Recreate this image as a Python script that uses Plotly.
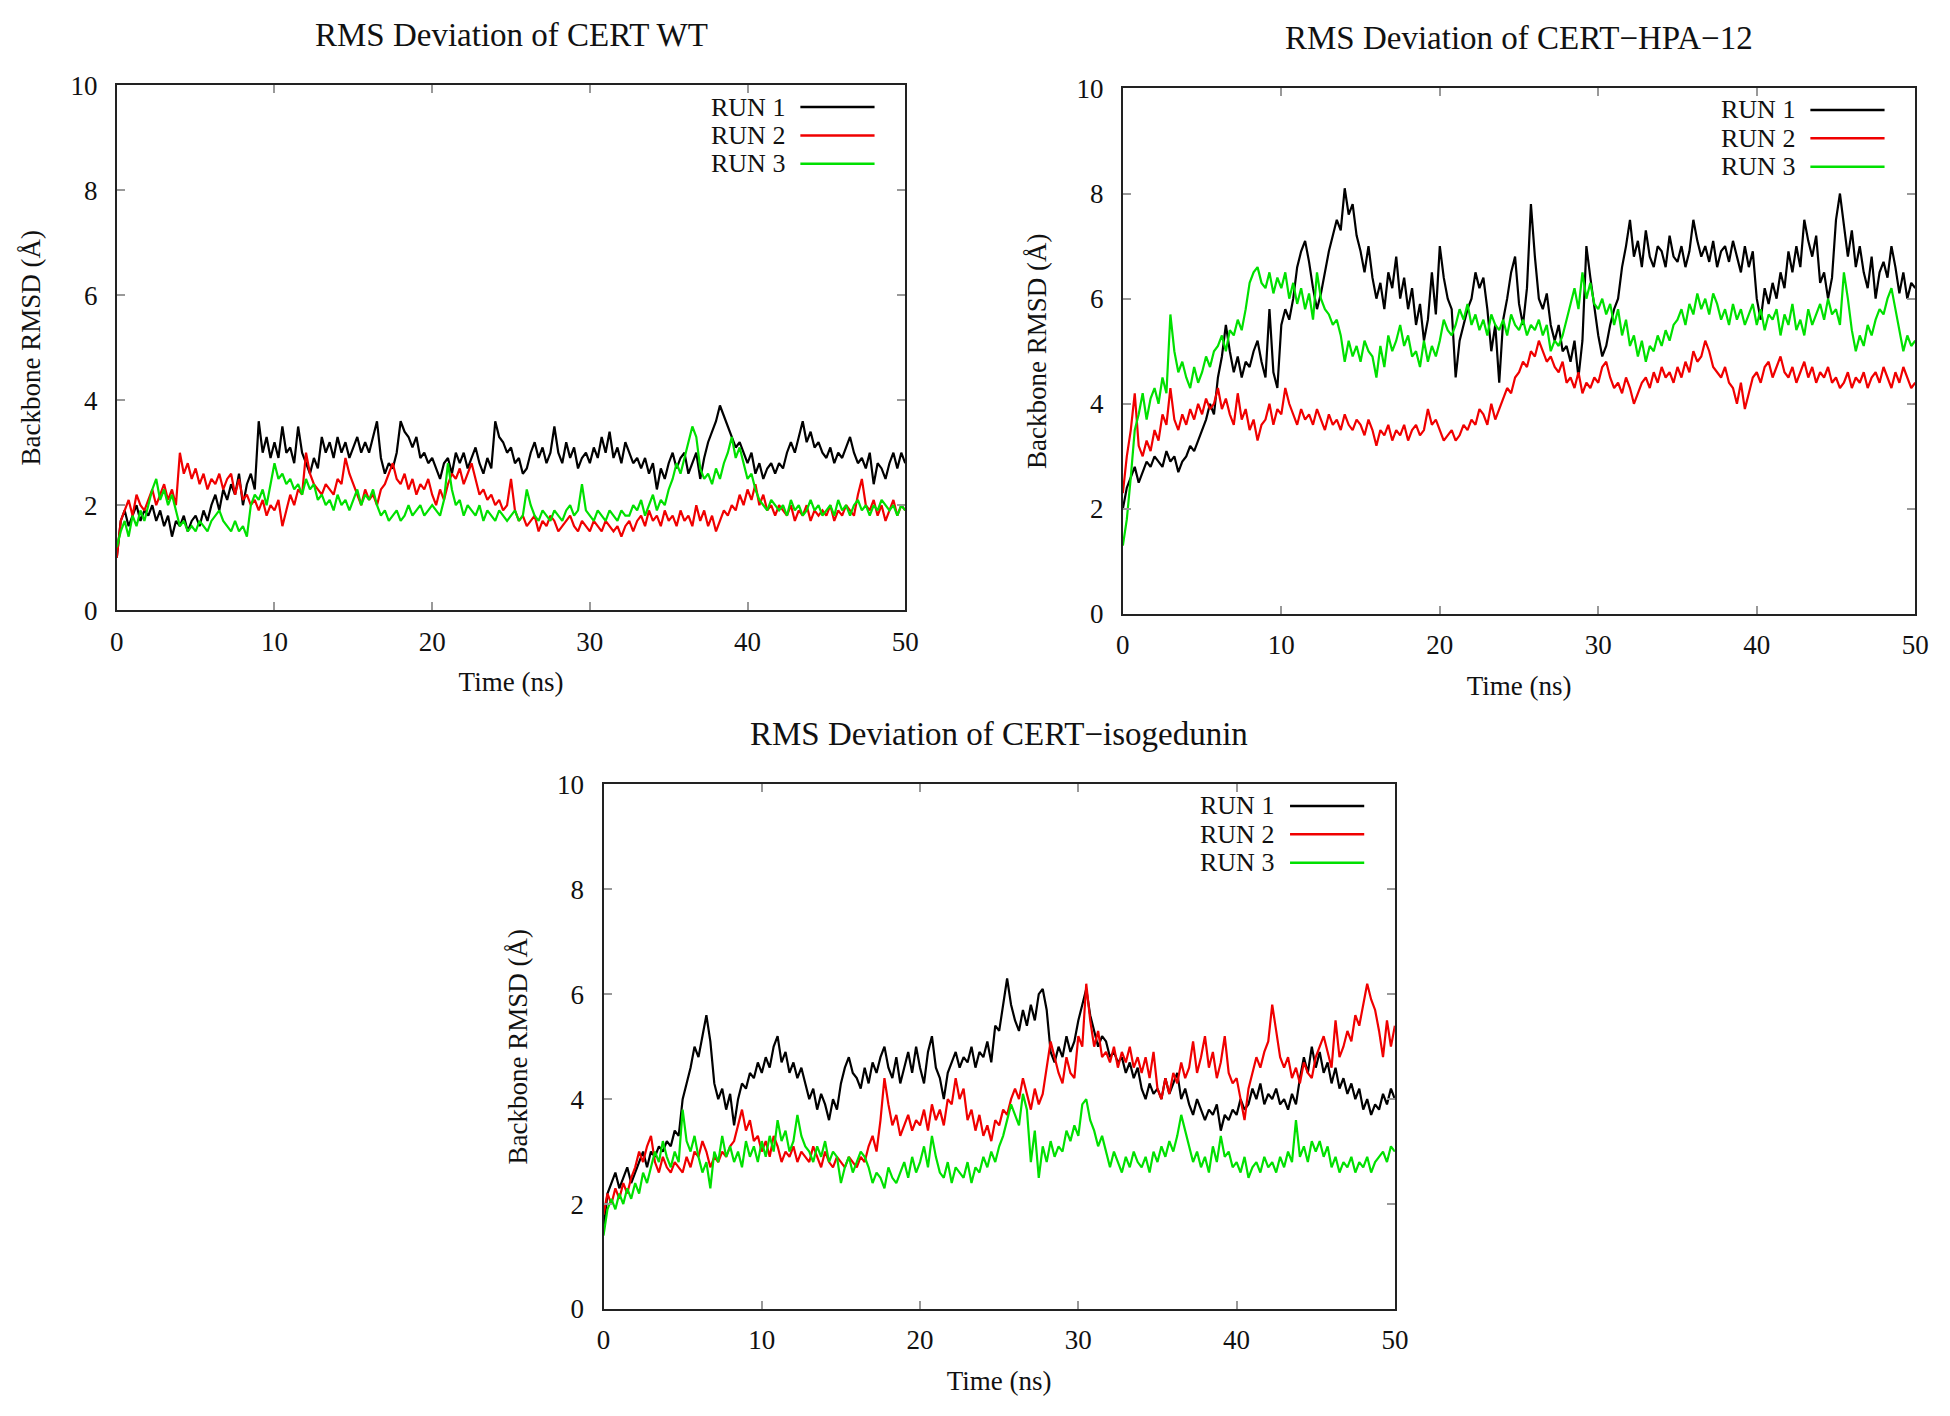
import plotly.graph_objects as go

TIME_STEP = 0.25

RUN_NAMES = ["RUN 1", "RUN 2", "RUN 3"]
RUN_COLORS = ["#000000", "#f00000", "#00e000"]

PANEL_TITLES = [
    "RMS Deviation of CERT WT",
    "RMS Deviation of CERT\u2212HPA\u221212",
    "RMS Deviation of CERT\u2212isogedunin",
]

X_TITLE = "Time (ns)"
Y_TITLE = "Backbone RMSD (\u00c5)"
X_TICKS = [0, 10, 20, 30, 40, 50]
Y_TICKS = [0, 2, 4, 6, 8, 10]

wt_run1 = [
    1.0, 1.7, 1.9, 1.6, 1.8, 2.0, 1.7, 1.9, 1.8, 2.0, 1.7, 1.9, 1.6, 1.8, 1.4, 1.7, 1.6, 1.8, 1.5, 1.7,
    1.8, 1.6, 1.9, 1.7, 2.0, 2.2, 1.9, 2.3, 2.1, 2.4, 2.2, 2.6, 2.0, 2.4, 2.6, 2.3, 3.6, 3.0, 3.3, 2.9,
    3.2, 2.9, 3.5, 3.0, 3.1, 2.8, 3.5, 3.0, 2.8, 2.6, 2.9, 2.7, 3.3, 3.0, 3.2, 2.9, 3.3, 3.0, 3.2, 2.9,
    3.1, 3.3, 3.0, 3.2, 3.0, 3.3, 3.6, 2.9, 2.6, 2.8, 2.7, 3.0, 3.6, 3.4, 3.3, 3.1, 3.3, 2.9, 3.0, 2.8,
    2.9, 2.7, 2.5, 2.8, 2.9, 2.6, 3.0, 2.8, 3.0, 2.7, 2.9, 3.1, 2.8, 2.6, 2.9, 2.7, 3.6, 3.3, 3.2, 3.0,
    3.1, 2.8, 2.9, 2.6, 2.7, 3.0, 3.2, 2.9, 3.1, 2.8, 3.0, 3.5, 3.0, 2.8, 3.2, 2.9, 3.1, 2.7, 2.9, 3.0,
    2.8, 3.1, 2.9, 3.3, 3.0, 3.4, 2.9, 3.1, 2.8, 3.2, 3.0, 2.8, 2.9, 2.7, 2.9, 2.6, 2.8, 2.3, 2.7, 2.5,
    2.8, 3.0, 2.7, 2.9, 3.0, 2.6, 2.8, 3.0, 2.5, 2.9, 3.2, 3.4, 3.6, 3.9, 3.7, 3.5, 3.3, 3.1, 3.2, 3.0,
    2.8, 3.0, 2.6, 2.8, 2.5, 2.7, 2.8, 2.6, 2.8, 2.7, 3.0, 3.2, 3.0, 3.3, 3.6, 3.2, 3.4, 3.1, 3.2, 3.0,
    2.9, 3.1, 2.8, 3.0, 2.9, 3.1, 3.3, 3.0, 2.8, 2.9, 2.7, 3.0, 2.4, 2.8, 2.7, 2.5, 2.8, 3.0, 2.7, 3.0,
    2.8,
]
wt_run2 = [
    1.0, 1.7, 1.9, 2.1, 1.8, 2.2, 2.0, 1.9, 2.1, 2.3, 2.0, 2.2, 2.4, 2.1, 2.3, 2.0, 3.0, 2.6, 2.8, 2.5,
    2.7, 2.4, 2.6, 2.3, 2.5, 2.4, 2.6, 2.3, 2.5, 2.6, 2.2, 2.5, 2.1, 2.2, 2.0, 2.1, 1.9, 2.1, 1.8, 2.0,
    1.9, 2.1, 1.6, 1.9, 2.2, 2.0, 2.3, 2.2, 3.0, 2.6, 2.4, 2.3, 2.2, 2.4, 2.3, 2.2, 2.5, 2.4, 2.9, 2.6,
    2.4, 2.2, 2.0, 2.3, 2.1, 2.2, 2.0, 2.3, 2.4, 2.6, 2.8, 2.5, 2.4, 2.6, 2.3, 2.5, 2.2, 2.4, 2.3, 2.5,
    2.2, 2.0, 2.3, 2.1, 2.4, 2.6, 2.5, 2.7, 2.4, 2.6, 2.8, 2.5, 2.2, 2.3, 2.1, 2.2, 2.0, 2.1, 1.9, 2.0,
    2.5, 1.9, 1.7, 1.8, 1.6, 1.7, 1.8, 1.5, 1.7, 1.6, 1.8, 1.7, 1.5, 1.6, 1.7, 1.8, 1.6, 1.5, 1.7, 1.6,
    1.5, 1.7, 1.6, 1.5, 1.7, 1.6, 1.5, 1.6, 1.4, 1.6, 1.7, 1.5, 1.7, 1.8, 1.6, 1.9, 1.7, 1.8, 1.6, 1.9,
    1.7, 1.8, 1.6, 1.9, 1.7, 1.8, 1.6, 2.0, 1.7, 1.9, 1.6, 1.8, 1.5, 1.7, 1.9, 1.8, 2.0, 1.9, 2.2, 2.0,
    2.3, 2.1, 2.4, 2.0, 2.2, 1.9, 2.0, 1.8, 2.0, 1.9, 1.8, 2.0, 1.7, 1.9, 1.8, 2.0, 1.7, 1.9, 1.8, 1.9,
    1.8, 2.0, 1.7, 1.9, 1.8, 2.0, 1.9, 1.8, 2.2, 2.5, 2.0, 1.9, 2.1, 1.8, 2.0, 1.7, 1.9, 2.1, 1.8, 2.0,
    1.9,
]
wt_run3 = [
    1.2, 1.5, 1.7, 1.4, 1.8, 1.6, 1.9, 1.7, 2.0, 2.3, 2.5, 2.1, 2.3, 2.0, 2.2, 1.9, 1.6, 1.7, 1.5, 1.6,
    1.5, 1.7, 1.6, 1.5, 1.7, 1.8, 1.9, 1.7, 1.6, 1.5, 1.7, 1.5, 1.6, 1.4, 2.0, 2.2, 2.1, 2.3, 2.0, 2.4,
    2.8, 2.5, 2.6, 2.4, 2.5, 2.3, 2.4, 2.2, 2.5, 2.3, 2.4, 2.1, 2.2, 2.0, 2.1, 1.9, 2.2, 2.0, 2.1, 1.9,
    2.1, 2.3, 2.0, 2.2, 2.1, 2.3, 2.0, 1.8, 1.9, 1.7, 1.8, 1.9, 1.7, 1.8, 2.0, 1.8, 1.9, 2.0, 1.8, 1.9,
    2.0, 1.9, 1.8, 2.1, 2.8, 2.3, 2.0, 2.1, 1.8, 2.0, 1.9, 1.8, 2.0, 1.7, 1.9, 1.8, 1.7, 1.9, 1.8, 1.7,
    1.8, 1.9, 1.7, 1.8, 2.3, 2.0, 1.8, 1.7, 1.9, 1.8, 1.7, 1.9, 1.8, 1.7, 1.9, 2.0, 1.8, 1.9, 2.4, 1.9,
    1.8, 1.7, 1.9, 1.8, 1.7, 1.9, 1.8, 1.7, 1.9, 1.8, 1.8, 2.0, 1.9, 2.1, 1.8, 2.0, 2.2, 1.9, 2.1, 2.0,
    2.3, 2.5, 2.8, 2.6, 2.9, 3.2, 3.5, 3.3, 2.7, 2.5, 2.6, 2.4, 2.7, 2.5, 2.8, 3.0, 3.3, 2.9, 3.1, 2.8,
    2.5, 2.6, 2.3, 2.1, 2.0, 1.9, 2.1, 2.0, 1.9, 2.0, 1.8, 2.1, 1.9, 2.0, 1.8, 1.9, 2.1, 1.9, 2.0, 1.8,
    1.9, 2.0, 1.8, 2.1, 1.9, 2.0, 1.8, 2.0, 2.1, 1.9, 2.0, 1.8, 2.0, 1.9, 2.1, 2.0, 1.9, 2.0, 1.8, 2.0,
    1.9,
]

hpa_run1 = [
    2.0, 2.4, 2.6, 2.8, 2.5, 2.7, 2.9, 2.8, 3.0, 2.9, 2.8, 3.1, 2.9, 3.0, 2.7, 2.9, 3.0, 3.2, 3.1, 3.3,
    3.5, 3.7, 4.0, 3.8, 4.5, 4.9, 5.5, 5.0, 4.6, 4.9, 4.5, 4.8, 4.7, 5.0, 5.2, 4.8, 4.5, 5.8, 4.6, 4.3,
    5.5, 5.8, 5.6, 6.0, 6.6, 6.9, 7.1, 6.7, 6.2, 5.8, 6.1, 6.5, 6.9, 7.2, 7.5, 7.3, 8.1, 7.6, 7.8, 7.2,
    6.9, 6.5, 7.0, 6.4, 6.0, 6.3, 5.8, 6.5, 6.2, 6.8, 6.0, 6.4, 5.8, 6.2, 5.5, 5.9, 5.2, 5.6, 6.5, 5.7,
    7.0, 6.4, 6.0, 5.8, 4.5, 5.2, 5.5, 5.8, 6.0, 6.5, 6.2, 6.4, 5.8, 5.0, 5.5, 4.4, 5.6, 6.0, 6.5, 6.8,
    5.9, 5.5, 6.2, 7.8, 6.8, 6.0, 5.8, 6.1, 5.5, 5.2, 5.5, 5.0, 5.1, 4.8, 5.2, 4.5, 5.2, 7.0, 6.4, 5.8,
    5.3, 4.9, 5.1, 5.5, 5.8, 6.0, 6.6, 7.0, 7.5, 6.8, 7.1, 6.6, 7.3, 6.8, 6.6, 7.0, 6.9, 6.6, 7.2, 6.8,
    6.7, 7.0, 6.6, 6.9, 7.5, 7.1, 6.8, 7.0, 6.7, 7.1, 6.6, 6.9, 7.0, 6.7, 7.1, 6.8, 6.5, 7.0, 6.6, 6.9,
    6.0, 5.6, 6.2, 5.9, 6.3, 6.0, 6.5, 6.2, 6.9, 6.5, 7.0, 6.6, 7.5, 7.1, 6.8, 7.2, 6.3, 6.5, 6.0, 6.4,
    7.5, 8.0, 7.4, 6.8, 7.3, 6.6, 7.0, 6.5, 6.2, 6.8, 6.0, 6.5, 6.7, 6.4, 7.0, 6.6, 6.1, 6.5, 6.0, 6.3,
    6.2,
]
hpa_run2 = [
    2.3, 3.0, 3.5, 4.2, 3.2, 3.0, 3.3, 3.1, 3.5, 3.3, 3.8, 3.6, 4.3, 3.7, 3.5, 3.8, 3.6, 3.9, 3.7, 4.0,
    3.8, 4.1, 3.9, 4.0, 4.3, 3.9, 4.1, 3.8, 3.6, 4.2, 3.7, 3.9, 3.5, 3.7, 3.3, 3.6, 3.7, 4.0, 3.6, 3.9,
    3.8, 4.3, 4.0, 3.8, 3.6, 3.9, 3.7, 3.8, 3.6, 3.9, 3.7, 3.5, 3.8, 3.6, 3.7, 3.5, 3.8, 3.6, 3.5, 3.7,
    3.6, 3.4, 3.7, 3.5, 3.2, 3.5, 3.4, 3.6, 3.3, 3.5, 3.4, 3.6, 3.3, 3.5, 3.6, 3.4, 3.5, 3.9, 3.6, 3.7,
    3.5, 3.3, 3.4, 3.5, 3.3, 3.4, 3.6, 3.5, 3.7, 3.6, 3.9, 3.8, 3.6, 4.0, 3.7, 3.9, 4.1, 4.3, 4.2, 4.5,
    4.6, 4.8, 4.7, 5.0, 4.9, 5.2, 5.0, 4.8, 4.9, 4.7, 4.6, 4.8, 4.4, 4.5, 4.3, 4.6, 4.2, 4.4, 4.3, 4.5,
    4.4, 4.7, 4.8, 4.5, 4.3, 4.4, 4.2, 4.5, 4.3, 4.0, 4.2, 4.4, 4.5, 4.3, 4.6, 4.4, 4.7, 4.5, 4.6, 4.4,
    4.7, 4.5, 4.8, 4.6, 5.0, 4.8, 4.9, 5.2, 5.0, 4.7, 4.6, 4.5, 4.7, 4.4, 4.3, 4.0, 4.4, 3.9, 4.2, 4.5,
    4.6, 4.4, 4.7, 4.8, 4.5, 4.7, 4.9, 4.6, 4.5, 4.7, 4.4, 4.6, 4.8, 4.5, 4.7, 4.4, 4.6, 4.5, 4.7, 4.4,
    4.5, 4.3, 4.4, 4.6, 4.3, 4.5, 4.4, 4.6, 4.3, 4.5, 4.6, 4.4, 4.7, 4.5, 4.3, 4.6, 4.4, 4.7, 4.5, 4.3,
    4.4,
]
hpa_run3 = [
    1.3, 1.8, 2.6, 3.5, 3.8, 4.2, 3.7, 4.1, 4.3, 4.0, 4.5, 4.2, 5.7, 5.0, 4.6, 4.8, 4.5, 4.3, 4.7, 4.4,
    4.6, 4.9, 4.7, 5.0, 5.1, 5.3, 5.0, 5.4, 5.3, 5.6, 5.4, 5.8, 6.3, 6.5, 6.6, 6.3, 6.2, 6.5, 6.1, 6.4,
    6.2, 6.5, 6.0, 6.3, 5.9, 6.2, 5.8, 6.1, 5.6, 6.5, 6.0, 5.8, 5.7, 5.5, 5.6, 5.3, 4.8, 5.2, 4.9, 5.1,
    4.8, 5.2, 5.0, 4.9, 4.5, 5.1, 4.7, 5.3, 5.0, 5.2, 5.5, 5.1, 5.3, 4.9, 5.0, 4.7, 5.2, 4.8, 5.1, 4.9,
    5.2, 5.6, 5.4, 5.3, 5.5, 5.8, 5.6, 5.9, 5.5, 5.7, 5.4, 5.6, 5.3, 5.7, 5.5, 5.4, 5.6, 5.3, 5.7, 5.5,
    5.4, 5.6, 5.3, 5.5, 5.4, 5.6, 5.3, 5.5, 5.0, 5.2, 5.1, 5.3, 5.6, 5.9, 6.2, 5.8, 6.5, 6.0, 6.3, 5.9,
    5.8, 6.0, 5.7, 5.9, 5.5, 5.8, 5.3, 5.6, 5.1, 5.3, 4.9, 5.2, 4.8, 5.1, 5.0, 5.3, 5.1, 5.4, 5.2, 5.5,
    5.6, 5.8, 5.5, 5.9, 5.7, 6.1, 5.8, 6.0, 5.7, 6.1, 5.9, 5.6, 5.8, 5.5, 5.9, 5.6, 5.8, 5.5, 5.7, 5.9,
    5.5, 5.8, 5.4, 5.7, 5.6, 5.8, 5.3, 5.7, 5.5, 5.9, 5.4, 5.6, 5.3, 5.8, 5.5, 5.7, 5.9, 5.6, 6.0, 5.7,
    5.8, 5.5, 6.5, 6.0, 5.4, 5.0, 5.3, 5.1, 5.5, 5.3, 5.6, 5.8, 5.7, 6.0, 6.2, 5.8, 5.4, 5.0, 5.3, 5.1,
    5.2,
]

iso_run1 = [
    1.5, 2.2, 2.4, 2.6, 2.3, 2.5, 2.7, 2.4, 2.6, 2.8, 3.0, 2.7, 3.0, 2.9, 3.1, 3.0, 3.2, 3.1, 3.4, 3.3,
    4.0, 4.3, 4.6, 5.0, 4.8, 5.2, 5.6, 5.1, 4.3, 4.0, 4.2, 3.8, 4.1, 3.5, 4.0, 4.3, 4.2, 4.5, 4.4, 4.7,
    4.5, 4.8, 4.6, 5.0, 5.2, 4.7, 4.9, 4.5, 4.7, 4.4, 4.6, 4.3, 4.0, 4.2, 3.8, 4.1, 3.9, 3.6, 4.0, 3.8,
    4.3, 4.6, 4.8, 4.5, 4.4, 4.2, 4.6, 4.3, 4.7, 4.5, 4.8, 5.0, 4.6, 4.4, 4.8, 4.3, 4.6, 4.9, 4.5, 5.0,
    4.6, 4.3, 4.9, 5.2, 4.6, 4.4, 4.0, 4.5, 4.7, 4.9, 4.6, 4.8, 4.7, 5.0, 4.6, 4.9, 4.8, 5.1, 4.7, 5.4,
    5.3, 5.8, 6.3, 5.8, 5.5, 5.3, 5.7, 5.4, 5.8, 5.5, 6.0, 6.1, 5.7, 4.9, 4.7, 5.0, 4.8, 5.2, 4.9, 5.1,
    5.5, 5.8, 6.1, 5.6, 5.3, 5.0, 5.2, 5.1, 4.8, 4.9, 4.7, 4.8, 4.5, 4.7, 4.4, 4.6, 4.2, 4.0, 4.3, 4.1,
    4.2, 4.0, 4.4, 4.1, 4.3, 4.5, 4.0, 4.2, 3.9, 3.7, 4.0, 3.8, 3.6, 3.8, 3.7, 3.9, 3.4, 3.7, 3.6, 3.8,
    3.7, 4.0, 3.8, 3.9, 4.2, 4.0, 4.3, 3.9, 4.1, 4.0, 4.2, 3.9, 4.0, 3.8, 4.1, 3.9, 4.4, 4.8, 4.5, 5.0,
    4.6, 4.9, 4.5, 4.7, 4.3, 4.6, 4.2, 4.4, 4.1, 4.3, 4.0, 4.2, 3.8, 4.0, 3.7, 3.9, 3.8, 4.1, 3.9, 4.2,
    4.0,
]
iso_run2 = [
    1.8, 2.2, 2.0, 2.3, 2.1, 2.4, 2.2, 2.5, 2.7, 3.0, 2.8, 3.1, 3.3, 2.8, 2.6, 2.9, 2.7, 2.6, 2.8, 2.7,
    2.6, 2.9, 2.7, 3.0, 2.9, 3.2, 3.0, 2.7, 2.9, 2.8, 3.0, 2.9, 3.1, 3.2, 3.5, 3.8, 3.4, 3.6, 3.2, 3.3,
    3.0, 3.2, 2.9, 3.3, 3.1, 2.8, 3.0, 2.9, 3.1, 2.8, 3.0, 2.9, 2.8, 3.1, 2.9, 2.7, 3.0, 2.8, 2.7, 2.9,
    2.8, 2.7, 2.9, 2.8, 2.7, 2.9, 2.8, 3.1, 3.3, 3.0, 3.6, 4.4, 3.9, 3.5, 3.7, 3.3, 3.5, 3.7, 3.4, 3.6,
    3.5, 3.8, 3.4, 3.9, 3.6, 3.8, 3.5, 4.0, 3.9, 4.4, 4.0, 4.2, 3.6, 3.8, 3.4, 3.7, 3.3, 3.5, 3.2, 3.6,
    3.5, 3.8, 3.7, 4.0, 4.2, 4.0, 4.4, 4.1, 3.8, 4.2, 3.9, 4.1, 4.6, 5.1, 4.8, 4.5, 4.3, 4.8, 4.5, 4.4,
    5.2, 5.0, 6.2, 5.5, 5.0, 5.3, 4.8, 4.9, 4.7, 5.0, 4.6, 4.9, 4.7, 5.0, 4.6, 4.8, 4.5, 4.8, 4.4, 4.9,
    4.2, 4.0, 4.4, 4.1, 4.5, 4.3, 4.7, 4.4, 4.6, 5.1, 4.5, 4.8, 5.2, 4.6, 4.9, 4.4, 4.7, 5.2, 4.5, 4.3,
    4.4, 4.0, 3.6, 4.2, 4.5, 4.8, 4.6, 4.9, 5.1, 5.8, 5.3, 4.8, 4.6, 4.8, 4.4, 4.6, 4.3, 4.7, 4.5, 4.4,
    4.8, 5.0, 5.2, 4.9, 4.6, 5.5, 4.8, 5.0, 5.3, 5.1, 5.6, 5.4, 5.8, 6.2, 5.9, 5.7, 5.3, 4.8, 5.5, 5.0,
    5.4,
]
iso_run3 = [
    1.4, 1.9, 2.1, 1.9, 2.2, 2.0, 2.3, 2.1, 2.4, 2.2, 2.6, 2.4, 2.7, 3.0, 2.8, 3.2, 2.9, 2.7, 3.0, 2.8,
    3.8, 3.2, 3.0, 3.3, 2.9, 2.6, 2.8, 2.3, 3.0, 2.8, 3.3, 2.9, 3.1, 2.8, 3.0, 2.7, 3.2, 2.9, 3.1, 2.8,
    3.2, 2.9, 3.3, 3.0, 3.6, 3.2, 3.4, 3.0, 3.2, 3.7, 3.3, 3.1, 3.0, 2.8, 3.1, 2.9, 3.2, 2.8, 3.0, 2.9,
    2.4, 2.7, 2.9, 2.6, 2.8, 3.0, 2.9, 2.7, 2.4, 2.6, 2.5, 2.3, 2.7, 2.5, 2.4, 2.6, 2.8, 2.5, 2.9, 2.6,
    2.8, 3.1, 2.7, 3.3, 2.9, 2.6, 2.5, 2.8, 2.4, 2.7, 2.6, 2.5, 2.8, 2.4, 2.7, 2.6, 2.9, 2.7, 3.0, 2.8,
    3.1, 3.3, 3.6, 3.9, 3.7, 3.5, 4.1, 3.8, 2.8, 3.4, 2.5, 3.1, 2.8, 3.2, 2.9, 3.1, 3.0, 3.4, 3.2, 3.5,
    3.3, 3.9, 4.0, 3.6, 3.4, 3.1, 3.3, 3.0, 2.7, 3.0, 2.8, 2.6, 2.9, 2.7, 3.0, 2.8, 2.7, 2.9, 2.6, 3.0,
    2.8, 3.1, 2.9, 3.2, 3.0, 3.3, 3.7, 3.4, 3.1, 2.8, 3.0, 2.7, 2.9, 2.6, 3.1, 2.8, 3.3, 2.9, 3.0, 2.7,
    2.8, 2.6, 2.9, 2.5, 2.7, 2.8, 2.6, 2.9, 2.7, 2.8, 2.6, 2.9, 2.7, 3.0, 2.8, 3.6, 2.9, 3.1, 2.8, 3.2,
    3.0, 3.2, 2.9, 3.1, 2.7, 2.9, 2.6, 2.8, 2.7, 2.9, 2.6, 2.8, 2.7, 2.9, 2.6, 2.8, 2.9, 3.0, 2.8, 3.1,
    3.0,
]

panels = [
    [wt_run1, wt_run2, wt_run3],
    [hpa_run1, hpa_run2, hpa_run3],
    [iso_run1, iso_run2, iso_run3],
]

# plot areas in pixels (left, right, top, bottom) on a 1950x1416 page
W, H = 1950, 1416
boxes = [(111, 908, 72, 608), (1128, 1929, 75, 612), (603, 1403, 786, 1322)]

FONT = "Liberation Serif, Times New Roman, serif"
TXT = "#111"

fig = go.Figure()

for p, runs in enumerate(panels):
    s = "" if p == 0 else str(p + 1)
    for name, color, vals in zip(RUN_NAMES, RUN_COLORS, runs):
        t = [i * TIME_STEP for i in range(len(vals))]
        fig.add_trace(go.Scatter(x=t, y=vals, mode="lines", name=name,
                                 line=dict(color=color, width=2.2),
                                 xaxis="x" + s, yaxis="y" + s, showlegend=False))

    l, r, top, b = boxes[p]
    axis_common = dict(showgrid=False, zeroline=False, showline=True, linecolor="#222",
                       linewidth=2, mirror="ticks", ticks="inside", ticklen=8,
                       tickwidth=1.5, tickcolor="#999",
                       tickfont=dict(family=FONT, size=27, color=TXT))
    fig.layout["xaxis" + s] = dict(axis_common, domain=[l / W, r / W], range=[0, 50],
                                   tickvals=X_TICKS, anchor="y" + s, ticklabelstandoff=6,
                                   title=dict(text=X_TITLE, standoff=17,
                                              font=dict(family=FONT, size=27, color=TXT)))
    fig.layout["yaxis" + s] = dict(axis_common, domain=[1 - b / H, 1 - top / H], range=[0, 10],
                                   tickvals=Y_TICKS, anchor="x" + s, ticklabelstandoff=12,
                                   title=dict(text=Y_TITLE, standoff=22,
                                              font=dict(family=FONT, size=27, color=TXT)))

    # panel title
    fig.add_annotation(xref="paper", yref="paper", x=(l + r) / 2 / W, y=1 - top / H,
                       xanchor="center", yanchor="middle", yshift=50, showarrow=False,
                       text=PANEL_TITLES[p], font=dict(family=FONT, size=33, color=TXT))

    # gnuplot style key: label on the left, line sample on the right
    pw, ph = r - l, b - top
    for k, (name, color) in enumerate(zip(RUN_NAMES, RUN_COLORS)):
        yy = 1 - (22 + 29 * k) / ph
        fig.add_annotation(xref="x" + s + " domain", yref="y" + s + " domain",
                           x=1 - 120 / pw, y=yy, xanchor="right", yanchor="middle",
                           showarrow=False, text=name,
                           font=dict(family=FONT, size=26, color=TXT))
        fig.add_shape(type="line", xref="x" + s + " domain", yref="y" + s + " domain",
                      x0=1 - 106 / pw, x1=1 - 31 / pw, y0=yy, y1=yy,
                      line=dict(color=color, width=2.5))

fig.update_layout(width=W, height=H, margin=dict(l=0, r=0, t=0, b=0),
                  plot_bgcolor="white", paper_bgcolor="white", showlegend=False)

fig.write_html("out.html", config={"displayModeBar": False},
               post_script="document.body.style.margin='0';")
